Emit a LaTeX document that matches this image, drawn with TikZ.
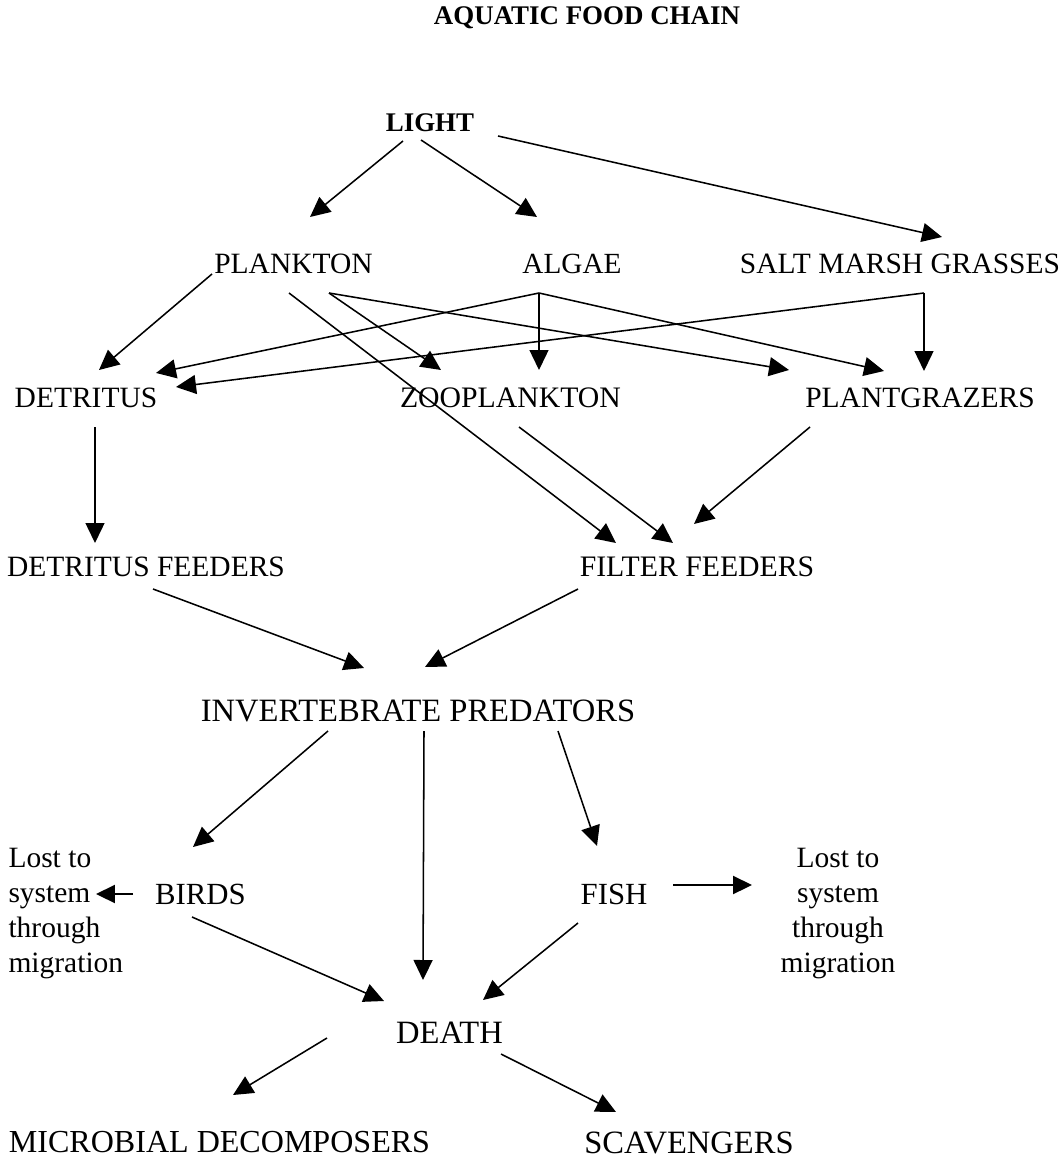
\documentclass[tikz,border=0pt]{standalone}
\usepackage{fontspec}
\setmainfont{Liberation Serif}
\usetikzlibrary{arrows.meta}
\begin{document}
\begin{tikzpicture}
[x=0.39pt,y=-0.39pt,%
  arrowDecorate/.style={-{Triangle[length=7.8pt,width=7.4pt]},line width=0.6pt},%
  sideArrowDecorate/.style={-{Triangle[length=7.4pt,width=7pt]},line width=0.9pt},%
  nodeDecorate/.style={inner sep=0pt,font=\fontsize{#1}{13.65}\selectfont},%
  nodeDecorate/.default=11.5,%
  boldDecorate/.style={inner sep=0pt,font=\fontsize{10.5}{12}\selectfont\bfseries}]
\useasboundingbox (0,0) rectangle (1062,1159);
%% title and light
\node (title) at (587,17.5) [boldDecorate] {AQUATIC FOOD CHAIN};
\node (light) at (430,122.5) [boldDecorate] {LIGHT};
%% nodes of the chain
\foreach \nodename/\x/\y/\nodesize/\nodetext in {
  plankton/293.5/264/11.5/PLANKTON, algae/572/264/11.4/ALGAE,
  salt/900/264/11.5/SALT MARSH GRASSES,
  detritus/86/398/11.5/DETRITUS, zoo/510.5/398/11.6/ZOOPLANKTON,
  plant/920/398/11.5/PLANTGRAZERS,
  detfeed/146/567/11.5/DETRITUS FEEDERS, filtfeed/697/567/11.6/FILTER FEEDERS,
  inv/418/711/12.7/INVERTEBRATE PREDATORS, birds/200.5/894/12/BIRDS,
  fish/614/894/12/FISH, death/449.5/1032.5/12.7/DEATH,
  micro/219.5/1142.5/12.5/MICROBIAL DECOMPOSERS, scav/689/1142.5/12.7/SCAVENGERS}
{
  \node (\nodename) at (\x,\y) [nodeDecorate=\nodesize] {\nodetext};
}
%% lost through migration
\node (lostL) at (8,848) [nodeDecorate,anchor=north west,align=left]
  {Lost to\\system\\through\\migration};
\node (lostR) at (838,848) [nodeDecorate,anchor=north,align=center]
  {Lost to\\system\\through\\migration};
%% arrows
\foreach \startnode/\sx/\sy/\endnode/\ex/\ey in {
  light/-27/18.5/plankton/16.5/-47, light/-9/17.5/algae/-35/-47,
  light/68/13.5/salt/42/-27,
  plankton/-81.5/10/detritus/13/-28, plankton/-4.5/29/filtfeed/-81/-24,
  plankton/35.5/29/zoo/-69.5/-28, plankton/35.5/29/plant/-131/-28,
  algae/-33/29/detritus/70/-25, algae/-33/29/zoo/28.5/-28,
  algae/-33/29/plant/-36/-27,
  salt/24/29/detritus/90/-11, salt/24/29/plant/4/-27,
  detritus/9/29/detfeed/-51/-24, zoo/8.5/29/filtfeed/-24/-24,
  plant/-110/29/filtfeed/-3/-43,
  detfeed/7/22/inv/-54/-43, filtfeed/-119/22/inv/7/-44,
  inv/-90/20/birds/-7.5/-47, inv/6/20/death/-26.5/-52.5,
  inv/140/20/fish/-17/-48,
  birds/-8.5/23/death/-65.5/-31.5, fish/-36/29/death/33.5/-32.5,
  death/-122.5/5.5/micro/13.5/-47.5, death/51.5/21.5/scav/-73/-30.5}
{
  \draw[arrowDecorate] ([shift={(\sx,\sy)}]\startnode.center) -- ([shift={(\ex,\ey)}]\endnode.center);
}
\draw[sideArrowDecorate] ([shift={(-67.5,0)}]birds.center) -- ([shift={(88,46)}]lostL.north west);
\draw[sideArrowDecorate] ([shift={(59,-9)}]fish.center) -- ([shift={(-86,37)}]lostR.north);
\end{tikzpicture}
\end{document}
